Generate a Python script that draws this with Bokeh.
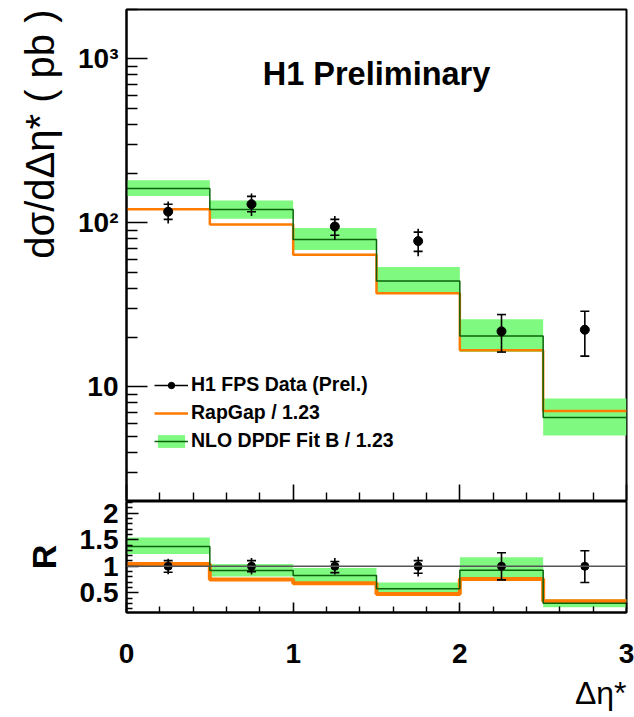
from bokeh.plotting import figure
from bokeh.models import (Range1d, FixedTicker, Legend, LegendItem, Label, Title,
                          Span, NumeralTickFormatter)
from bokeh.layouts import column
from bokeh.embed import file_html
from bokeh.resources import INLINE

# ---------------- data ----------------
edges = [0.0, 0.5, 1.0, 1.5, 2.0, 2.5, 3.0]
centers = [0.25, 0.75, 1.25, 1.75, 2.25, 2.75]

data = [117, 130, 95, 77.4, 21.8, 22.3]
stat_hi = [130, 145, 105, 87.8, 27.6, 28.9]
stat_lo = [105, 117, 84, 67, 16.3, 15.4]
tot_hi = [135, 151, 110, 92, 27.6, 28.9]
tot_lo = [99, 110, 79, 62.5, 16.3, 15.4]

nlo = [162, 120.5, 79.3, 44.2, 20.4, 6.5]
nlo_hi = [181.6, 137, 92.9, 53.9, 25.8, 8.5]
nlo_lo = [146, 106, 68.4, 37, 16.3, 5.05]
rapgap = [121, 97.7, 64, 37.2, 16.7, 7.13]

r_data = [1, 1, 1, 1, 1, 1]
r_stat_hi = [1.106, 1.106, 1.09, 1.106, 1.256, 1.294]
r_stat_lo = [0.887, 0.90, 0.88, 0.869, 0.744, 0.694]
r_tot_hi = [1.144, 1.156, 1.156, 1.18, 1.256, 1.294]
r_tot_lo = [0.85, 0.844, 0.844, 0.806, 0.744, 0.694]
r_nlo = [1.375, 0.92, 0.825, 0.575, 0.925, 0.306]
r_nlo_hi = [1.54, 1.044, 0.97, 0.694, 1.169, 0.38]
r_nlo_lo = [1.23, 0.806, 0.70, 0.506, 0.73, 0.23]
r_rapgap = [1.044, 0.75, 0.68, 0.48, 0.76, 0.34]

x_major = [0, 1, 2, 3]
x_minor = [0.2, 0.4, 0.6, 0.8, 1.2, 1.4, 1.6, 1.8, 2.2, 2.4, 2.6, 2.8]
y_major = [10, 100, 1000]
y_minor = [2, 3, 4, 5, 6, 7, 8, 9, 20, 30, 40, 50, 60, 70, 80, 90,
           200, 300, 400, 500, 600, 700, 800, 900, 2000]
y_labels = {10: "10", 100: "10²", 1000: "10³"}
r_major = [0.5, 1, 1.5, 2]
r_minor = [0.2, 0.3, 0.4, 0.6, 0.7, 0.8, 0.9, 1.1, 1.2, 1.3, 1.4,
           1.6, 1.7, 1.8, 1.9, 2.1, 2.2]

GREEN_BAND = "#80f980"
GREEN_LINE = "#0a630a"
ORANGE = "#ff7a00"
FONT = "Liberation Sans"

left_edges = edges[:-1]
right_edges = edges[1:]

FW = 500
LEFT = 126
RIGHT = 8
OVER = 16

# ---------------- top panel ----------------
p1 = figure(frame_width=FW, frame_height=492, y_axis_type="log",
            x_range=Range1d(0, 3), y_range=Range1d(2, 2000),
            output_backend="svg", toolbar_location=None,
            min_border_left=LEFT, min_border_right=RIGHT, min_border_top=9,
            min_border_bottom=0)
p1.xgrid.visible = False
p1.ygrid.visible = False
p1.outline_line_color = "black"
p1.outline_line_width = 2
p1.background_fill_color = "white"
p1.border_fill_color = "white"

band = p1.quad(left=left_edges, right=right_edges, bottom=nlo_lo, top=nlo_hi,
               fill_color=GREEN_BAND, line_color=None)
rg = p1.step(x=edges, y=rapgap + [rapgap[-1]], mode="after",
             line_color=ORANGE, line_width=2.5)
nl = p1.step(x=edges, y=nlo + [nlo[-1]], mode="after",
             line_color=GREEN_LINE, line_width=1.5)
seg = p1.segment(x0=centers, y0=tot_lo, x1=centers, y1=tot_hi,
                 line_color="black", line_width=1.6)
p1.scatter(x=centers + centers, y=stat_hi + stat_lo, marker="dash", size=9,
           line_color="black", line_width=1.6)
pts = p1.scatter(x=centers, y=data, marker="circle", size=9,
                 fill_color="black", line_color="black")

ya = p1.yaxis[0]
ya.ticker = FixedTicker(ticks=y_major, minor_ticks=y_minor)
ya.major_label_overrides = y_labels
ya.major_tick_in = 21
ya.major_tick_out = 0
ya.minor_tick_in = 11
ya.minor_tick_out = 0
ya.major_tick_line_width = 1.6
ya.minor_tick_line_width = 1.4
ya.axis_line_width = 2
ya.major_label_text_font = FONT
ya.major_label_text_font_style = "bold"
ya.major_label_text_font_size = "28px"
ya.major_label_text_color = "black"
ya.major_label_standoff = 8

xa = p1.xaxis[0]
xa.ticker = FixedTicker(ticks=x_major, minor_ticks=x_minor)
xa.major_label_overrides = {0: "", 1: "", 2: "", 3: ""}
xa.major_label_text_font_size = "0px"
xa.major_label_standoff = 0
xa.major_tick_in = 17
xa.major_tick_out = 0
xa.minor_tick_in = 9
xa.minor_tick_out = 0
xa.major_tick_line_width = 1.6
xa.minor_tick_line_width = 1.4
xa.axis_line_width = 2

p1.add_layout(Title(text="dσ/dΔη* ( pb )", align="right", text_font=FONT,
                    text_font_size="40px", text_font_style="normal",
                    text_color="black", standoff=28), "left")

p1.add_layout(Label(x=1.5, y=811, text="H1 Preliminary", text_font=FONT,
                    text_font_size="32.5px", text_font_style="bold",
                    text_align="center", text_baseline="middle",
                    text_color="black"))

legend = Legend(items=[
    LegendItem(label="H1 FPS Data (Prel.)", renderers=[seg, pts]),
    LegendItem(label="RapGap / 1.23", renderers=[rg]),
    LegendItem(label="NLO DPDF Fit B / 1.23", renderers=[band, nl]),
], location=(28, 49), padding=0, margin=0, spacing=5,
    glyph_width=34, glyph_height=16, label_standoff=3,
    label_text_font=FONT, label_text_font_style="bold",
    label_text_font_size="19.5px", label_text_color="black",
    background_fill_alpha=0, border_line_alpha=0)
p1.add_layout(legend, "center")

# ---------------- bottom panel ----------------
p2 = figure(frame_width=FW, frame_height=111,
            x_range=Range1d(0, 3), y_range=Range1d(0.13, 2.22),
            output_backend="svg", toolbar_location=None,
            min_border_left=LEFT, min_border_right=RIGHT, min_border_top=OVER,
            min_border_bottom=0)
p2.margin = (-OVER, 0, 0, 0)
p2.xgrid.visible = False
p2.ygrid.visible = False
p2.outline_line_color = "black"
p2.outline_line_width = 2
p2.background_fill_color = "white"
p2.border_fill_alpha = 0

p2.quad(left=left_edges, right=right_edges, bottom=r_nlo_lo, top=r_nlo_hi,
        fill_color=GREEN_BAND, line_color=None)
p2.step(x=edges, y=r_rapgap + [r_rapgap[-1]], mode="after",
        line_color=ORANGE, line_width=4)
p2.step(x=edges, y=r_nlo + [r_nlo[-1]], mode="after",
        line_color=GREEN_LINE, line_width=1.5)
p2.add_layout(Span(location=1, dimension="width", line_color="#555555",
                   line_width=1.6))
p2.segment(x0=centers, y0=r_tot_lo, x1=centers, y1=r_tot_hi,
           line_color="black", line_width=1.6)
p2.scatter(x=centers + centers, y=r_stat_hi + r_stat_lo, marker="dash",
           size=9, line_color="black", line_width=1.6)
p2.scatter(x=centers, y=r_data, marker="circle", size=8,
           fill_color="black", line_color="black")

ra = p2.yaxis[0]
ra.ticker = FixedTicker(ticks=r_major, minor_ticks=r_minor)
ra.formatter = NumeralTickFormatter(format="0.[0]")
ra.major_tick_in = 12
ra.major_tick_out = 0
ra.minor_tick_in = 6
ra.minor_tick_out = 0
ra.major_tick_line_width = 1.6
ra.minor_tick_line_width = 1.4
ra.axis_line_width = 2
ra.major_label_text_font = FONT
ra.major_label_text_font_style = "bold"
ra.major_label_text_font_size = "28px"
ra.major_label_text_color = "black"
ra.major_label_standoff = 8
ra.axis_label = "R"
ra.axis_label_text_font = FONT
ra.axis_label_text_font_style = "bold"
ra.axis_label_text_font_size = "34px"
ra.axis_label_text_color = "black"
ra.axis_label_standoff = 14

xb = p2.xaxis[0]
xb.ticker = FixedTicker(ticks=x_major, minor_ticks=x_minor)
xb.major_tick_in = 10
xb.major_tick_out = 0
xb.minor_tick_in = 6
xb.minor_tick_out = 0
xb.major_tick_line_width = 1.6
xb.minor_tick_line_width = 1.4
xb.axis_line_width = 2
xb.major_label_text_font = FONT
xb.major_label_text_font_style = "bold"
xb.major_label_text_font_size = "28px"
xb.major_label_text_color = "black"
xb.major_label_standoff = 31

p2.add_layout(Title(text="Δη*", align="right", text_font=FONT,
                    text_font_size="32px", text_font_style="normal",
                    text_color="black", standoff=14), "below")

layout = column(p1, p2, spacing=0)
open("out.html", "w").write(file_html(layout, INLINE))
